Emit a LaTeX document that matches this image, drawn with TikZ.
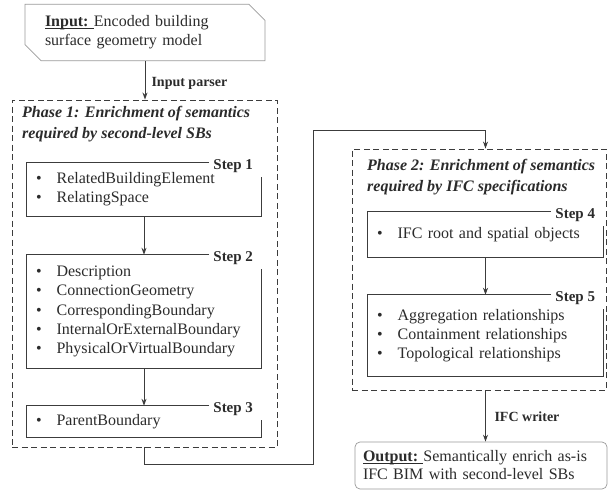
\documentclass[tikz,border=0pt]{standalone}
\usepackage{fontspec}
\setmainfont{Liberation Serif}
\usetikzlibrary{arrows.meta,shapes.misc}
\definecolor{linegray}{HTML}{3C3C3C}
\definecolor{boxgray}{HTML}{9A9A9A}
\definecolor{textgray}{HTML}{2B2B2B}
\newcommand{\itm}[1]{\textbullet\hspace{15pt}#1}
\newcommand{\ultext}[1]{\underline{\smash{#1}}}
\tikzset{
  every node/.style={text=textgray, font=\fontsize{16}{19.2}\selectfont},
  stepbox/.style={inner xsep=9pt, inner ysep=0pt, text width=216pt, align=left},
  steplabel/.style={font=\fontsize{15}{18}\selectfont\bfseries, inner sep=4pt, anchor=east},
  stepline/.style={draw=linegray, line width=0.9pt},
  phasebox/.style={draw=linegray, line width=0.9pt, dash pattern=on 6pt off 3.5pt},
  phasetitle/.style={font=\fontsize{16}{21}\selectfont\bfseries\itshape, inner sep=0pt, anchor=north west, align=left},
  iobox/.style={draw=boxgray, line width=0.7pt, align=left},
  conn/.style={draw=linegray, line width=0.9pt},
  arr/.style={conn, -{Stealth[length=7pt,width=5pt]}},
  connlabel/.style={font=\fontsize{14}{17}\selectfont\bfseries, anchor=west}
}
\begin{document}
\begin{tikzpicture}[x=1pt,y=-1pt]
\useasboundingbox (0,0) rectangle (608,490);

% input and output
\node[iobox, chamfered rectangle, chamfered rectangle corners={north east,south west},
  chamfered rectangle xsep=8pt, chamfered rectangle ysep=8pt,
  inner xsep=12pt, text width=200pt, minimum height=51pt] (inp) at (145,32.5)
  {\ultext{\textbf{Input:}\ }Encoded building\\surface geometry model};
\node[iobox, rounded corners=5pt, inner xsep=8pt, text width=236pt, minimum height=47pt,
  font=\fontsize{16}{18}\selectfont] (out) at (481,465.5)
  {\ultext{\textbf{Output:}\ }Semantically enrich as-is\\IFC BIM with second-level SBs};

% phase 1
\node[phasebox, minimum width=265pt, minimum height=347pt] (p1) at (144.5,273.5) {};
\node[phasetitle] (t1) at (22,106) {Phase 1: Enrichment of semantics\\required by second-level SBs};

\node[stepbox, minimum height=53pt] (s1) at (144,189.5)
  {\itm{RelatedBuildingElement}\\\itm{RelatingSpace}};
\node[stepbox, minimum height=113pt] (s2) at (144,311.5)
  {\itm{Description}\\\itm{ConnectionGeometry}\\\itm{CorrespondingBoundary}\\\itm{InternalOrExternalBoundary}\\\itm{PhysicalOrVirtualBoundary}};
\node[stepbox, minimum height=31pt] (s3) at (144,421.5)
  {\itm{ParentBoundary}};

% phase 2
\node[phasebox, minimum width=254pt, minimum height=241pt] (p2) at (479,269.5) {};
\node[phasetitle] (t2) at (367,159) {Phase 2: Enrichment of semantics\\required by IFC specifications};

\node[stepbox, text width=217pt, minimum height=45pt] (s4) at (485.5,234.5)
  {\itm{IFC root and spatial objects}};
\node[stepbox, text width=217pt, minimum height=81pt] (s5) at (485.5,335.5)
  {\itm{Aggregation relationships}\\\itm{Containment relationships}\\\itm{Topological relationships}};

% step labels and open borders
\foreach \s/\n in {s1/1,s2/2,s3/3,s4/4,s5/5} {
  \node[steplabel] (l\n) at ([xshift=-4pt,yshift=-3pt]\s.north east) {Step \n};
  \draw[stepline] (l\n.west |- \s.north) -- (\s.north west) -- (\s.south west)
    -- (\s.south east) -- (\s.east |- l\n.south);
}

% connectors
\coordinate (bend) at (313,130);
\draw[arr] (inp.south) -- (inp.south |- p1.north);
\node[connlabel] (parser) at (148,83) {Input parser};
\draw[arr] (s1.south) -- (s2.north);
\draw[arr] (s2.south) -- (s3.north);
\draw[arr] (p1.south) -- ++(0,17) -| (bend) -| (s4.north |- p2.north);
\draw[arr] (s4.south) -- (s5.north);
\draw[arr] (s5.south |- p2.south) -- (s5.south |- out.north);
\node[connlabel] (writer) at (491,417) {IFC writer};
\end{tikzpicture}
\end{document}
